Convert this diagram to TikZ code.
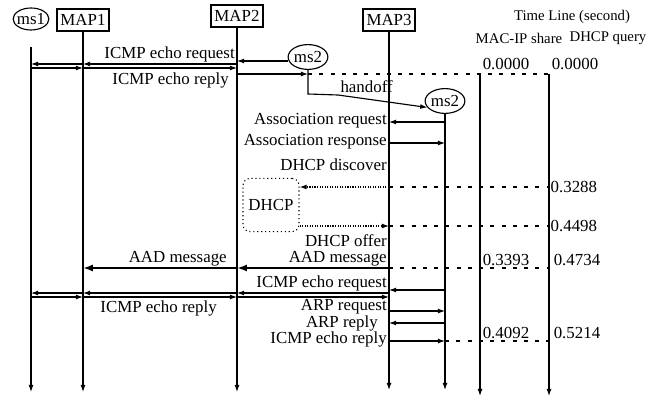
\documentclass[tikz,border=0pt]{standalone}
\usepackage{fontspec}
\setmainfont{Liberation Serif}
\usetikzlibrary{arrows.meta,positioning,shapes.geometric}

\begin{document}
\begin{tikzpicture}[
        x=0.025cm, y=-0.025cm,
        font=\fontsize{12}{14}\selectfont,
        apnode/.style={rectangle, draw=black, thick, inner xsep=2.5pt, inner ysep=1pt, minimum height=0.55cm},
        msnode/.style={ellipse, draw=black, thick, inner xsep=-1pt, inner ysep=0pt, minimum height=0.55cm},
        msnode2/.style={msnode, inner xsep=0pt, minimum height=0.62cm},
        servnode/.style={rectangle, rounded corners=5pt, draw=black, thick, dotted, minimum width=1.4cm, minimum height=1.33cm},
        headnode/.style={font=\fontsize{10.5}{12}\selectfont, inner sep=1pt},
        lifeline/.style={line width=0.8pt, -{Latex[length=5pt,width=3.5pt]}},
        msgline/.style={line width=0.8pt, -{Latex[length=5pt,width=3.5pt]}},
        dhcpline/.style={line width=0.8pt, densely dotted, -{Latex[length=5pt,width=3.5pt]}},
        aadline/.style={line width=2pt, -{Latex[length=7pt,width=5pt]}},
        timeline/.style={line width=0.8pt, dash pattern=on 3pt off 5pt},
        msglabel/.style={inner sep=0pt, anchor=east},
        timelabel/.style={inner sep=1pt},
    ]
    \useasboundingbox (0,0) rectangle (649,399);
    %Nodes
    \node[msnode]  (ms1)  at (31,19)  {ms1};
    \node[apnode]  (map1) at (83,20)  {MAP1};
    \node[apnode]  (map2) at (237,16) {MAP2};
    \node[apnode]  (map3) at (389,20) {MAP3};
    \node[msnode2] (ms2a) at (308,57) {ms2};
    \node[msnode2] (ms2b) at (445,101) {ms2};
    \node[servnode] (dhcp) at (271,205) {DHCP};
    \node[headnode] (tlhead)    at (572,17) {Time Line (second)};
    \node[headnode] (sharehead) at (519,38) {MAC-IP share};
    \node[headnode] (queryhead) at (608,38) {DHCP query};
    \coordinate (ms1top) at (31,47);
    \coordinate (mac) at (480,74);
    \coordinate (dq)  at (549,74);
    \coordinate (bot)  at (0,392);
    \coordinate (tbot) at (0,396);
    %Lifelines
    \draw[lifeline] (ms1top) -- (ms1top |- bot);
    \draw[lifeline] (map1.south) -- (map1 |- bot);
    \draw[lifeline] (map2.south) -- (map2 |- bot);
    \draw[lifeline] (map3.south) -- (map3 |- 0,390);
    \draw[lifeline] (ms2b.south) -- (ms2b |- 0,390);
    \draw[lifeline] (mac) -- (mac |- tbot);
    \draw[lifeline] (dq) -- (dq |- tbot);
    %ICMP echo before handoff
    \draw[msgline] (ms2a.west |- 0,61) -- (map2 |- 0,61);
    \draw[msgline] (map2 |- 0,64) -- (map1 |- 0,64);
    \draw[msgline] (map1 |- 0,64) -- (ms1 |- 0,64);
    \draw[msgline] (ms1 |- 0,68) -- (map1 |- 0,68);
    \draw[msgline] (map1 |- 0,68) -- (map2 |- 0,68);
    \draw[msgline] (map2 |- 0,74) -- (ms2a |- 0,74);
    \node[msglabel] (req1) at (235,54) {ICMP echo request};
    \node[msglabel] (rep1) at (229,80) {ICMP echo reply};
    \draw[timeline] (ms2a |- 0,74) -- (dq);
    \node[timelabel] (t0a) at (506,64) {0.0000};
    \node[timelabel] (t0b) at (575,64) {0.0000};
    %Handoff
    \draw[msgline] (ms2a.south) -- (ms2a |- 0,94) -- ++(30,1) -- (ms2b.200);
    \node[msglabel] (hoff) at (393,87) {handoff};
    %Association
    \draw[msgline] (ms2b |- 0,122) -- (map3 |- 0,122);
    \draw[msgline] (map3 |- 0,143) -- (ms2b |- 0,143);
    \node[msglabel] (assreq) at (387,121) {Association request};
    \node[msglabel] (assrsp) at (387,142) {Association response};
    %DHCP exchange
    \draw[dhcpline] (map3 |- 0,187) -- (dhcp.east |- 0,187);
    \draw[dhcpline] (dhcp.east |- 0,226) -- (map3 |- 0,226);
    \node[msglabel] (disc) at (387,165) {DHCP discover};
    \node[msglabel] (offer) at (387,241) {DHCP offer};
    \draw[timeline] (map3 |- 0,187) -- (dq |- 0,187);
    \draw[timeline] (map3 |- 0,226) -- (dq |- 0,226);
    \node[timelabel, anchor=west] (t1b) at (dq |- 0,187) {0.3288};
    \node[timelabel, anchor=west] (t2b) at (dq |- 0,226) {0.4498};
    %AAD
    \draw[aadline] (map3 |- 0,268) -- (map2 |- 0,268);
    \draw[aadline] (map2 |- 0,268) -- (map1 |- 0,268);
    \node[msglabel] (aad2) at (387,259) {AAD message};
    \node[msglabel] (aad1) at (227,259) {AAD message};
    \draw[timeline] (map3 |- 0,268) -- (dq |- 0,268);
    \node[timelabel] (t3a) at (506,260) {0.3393};
    \node[timelabel] (t3b) at (577,260) {0.4734};
    %ICMP echo after handoff
    \draw[msgline] (ms2b |- 0,290) -- (map3 |- 0,290);
    \draw[msgline] (map3 |- 0,293) -- (map2 |- 0,293);
    \draw[msgline] (map2 |- 0,293) -- (map1 |- 0,293);
    \draw[msgline] (map1 |- 0,293) -- (ms1 |- 0,293);
    \draw[msgline] (ms1 |- 0,297) -- (map1 |- 0,297);
    \draw[msgline] (map1 |- 0,297) -- (map2 |- 0,297);
    \draw[msgline] (map2 |- 0,297) -- (map3 |- 0,297);
    \node[msglabel] (req2) at (387,283) {ICMP echo request};
    \node[msglabel] (rep2) at (217,308) {ICMP echo reply};
    %ARP
    \draw[msgline] (map3 |- 0,311) -- (ms2b |- 0,311);
    \draw[msgline] (ms2b |- 0,323) -- (map3 |- 0,323);
    \draw[msgline] (map3 |- 0,341) -- (ms2b |- 0,341);
    \node[msglabel] (arpreq) at (387,307) {ARP request};
    \node[msglabel] (arprep) at (378,323) {ARP reply};
    \node[msglabel] (rep3) at (387,339) {ICMP echo reply};
    \draw[timeline] (ms2b |- 0,341) -- (dq |- 0,341);
    \node[timelabel] (t4a) at (506,333) {0.4092};
    \node[timelabel] (t4b) at (577,333) {0.5214};
\end{tikzpicture}
\end{document}
